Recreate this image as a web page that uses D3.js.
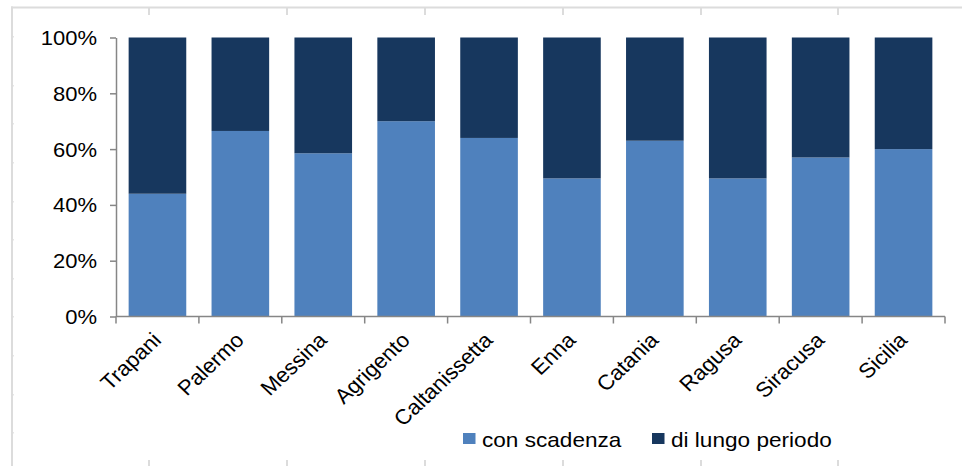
<!DOCTYPE html>
<html>
<head>
<meta charset="utf-8">
<script src="https://cdn.jsdelivr.net/npm/d3@7"></script>
<style>
  html, body { margin: 0; padding: 0; background: #fff; }
  svg { display: block; }
  text { font-family: "Liberation Sans", Arial, sans-serif; fill: #000; }
</style>
</head>
<body>
<svg id="chart" width="962" height="466"></svg>
<script>
const categories = ["Trapani", "Palermo", "Messina", "Agrigento", "Caltanissetta", "Enna", "Catania", "Ragusa", "Siracusa", "Sicilia"];
const conScadenza = [44, 66.5, 58.5, 70, 64, 49.5, 63, 49.5, 57, 60];
const diLungoPeriodo = [56, 33.5, 41.5, 30, 36, 50.5, 37, 50.5, 43, 40];
const seriesNames = ["con scadenza", "di lungo periodo"];
const yTicks = [0, 20, 40, 60, 80, 100];

const colors = ["#4f81bd", "#17375e"];
const SX = 1.1;
const FS = 20;

const svg = d3.select("#chart");
svg.append("rect").attr("width", 962).attr("height", 466).attr("fill", "#fff");

// page frame (grey scaffolding of the source document)
const frame = svg.append("g").attr("fill", "#dcdcdc");
frame.append("rect").attr("x", 11).attr("y", 6.5).attr("width", 951).attr("height", 2);
frame.append("rect").attr("x", 11).attr("y", 6.5).attr("width", 2).attr("height", 460);
const framePos = [148, 286, 424, 562, 700, 837];
framePos.forEach(xx => {
  frame.append("rect").attr("x", xx).attr("y", 7).attr("width", 2).attr("height", 8);
  frame.append("rect").attr("x", xx).attr("y", 460).attr("width", 2).attr("height", 6);
});
[36, 85, 123, 162, 201, 239, 278, 316, 355, 394, 432].forEach(yy => {
  frame.append("rect").attr("x", 13).attr("y", yy).attr("width", 1).attr("height", 1.5).attr("fill", "#e6e6e6");
});

const x = d3.scaleBand().domain(categories).range([116, 945]).paddingInner(0.305).paddingOuter(0.1525);
const y = d3.scaleLinear().domain([0, 100]).range([316.5, 37.5]);

const data = categories.map((c, i) => ({ cat: c, a: conScadenza[i], b: diLungoPeriodo[i] }));
const stack = d3.stack().keys(["a", "b"])(data);

svg.append("g").selectAll("g").data(stack).join("g")
  .attr("fill", (d, i) => colors[i])
  .selectAll("rect").data(d => d).join("rect")
  .attr("x", d => x(d.data.cat))
  .attr("width", x.bandwidth())
  .attr("y", d => y(Math.min(100, d[1])))
  .attr("height", d => y(d[0]) - y(Math.min(100, d[1])));

// y axis
const yAxis = svg.append("g").attr("transform", "translate(116,0)")
  .call(d3.axisLeft(y).tickValues(yTicks).tickFormat(d => d + "%").tickSize(6).tickSizeOuter(0).tickPadding(13));
yAxis.selectAll("path, line").attr("stroke", "#868686").attr("stroke-width", 1.5);
yAxis.selectAll("text").attr("font-size", FS).attr("font-family", "Liberation Sans, Arial, sans-serif")
  .attr("fill", "#000").attr("x", null).attr("dy", "0.35em")
  .attr("transform", `translate(-19,0) scale(${SX},1)`);

// x axis with boundary ticks
const xAxisG = svg.append("g").attr("transform", "translate(0,316.5)");
xAxisG.append("line").attr("x1", 116).attr("x2", 945).attr("stroke", "#868686").attr("stroke-width", 1.5);
const bounds = d3.range(categories.length + 1).map(i => 116 + i * (829 / categories.length));
xAxisG.selectAll("line.tk").data(bounds).join("line").attr("class", "tk")
  .attr("x1", d => d).attr("x2", d => d).attr("y1", 0).attr("y2", 7)
  .attr("stroke", "#868686").attr("stroke-width", 1.5);

xAxisG.selectAll("text").data(categories).join("text")
  .attr("transform", d => `translate(${x(d) + x.bandwidth() / 2 + 5},${25}) scale(1.06,1) rotate(-45)`)
  .attr("text-anchor", "end")
  .attr("font-size", 21)
  .text(d => d);

// legend
const legend = svg.append("g");
const legendX = [463, 652];
seriesNames.forEach((n, i) => {
  legend.append("rect").attr("x", legendX[i]).attr("y", 433).attr("width", 12.5).attr("height", 11).attr("fill", colors[i]);
  legend.append("text").attr("transform", `translate(${legendX[i] + 19},446.5) scale(1.13,1)`)
    .attr("font-size", FS).text(n);
});
</script>
</body>
</html>
